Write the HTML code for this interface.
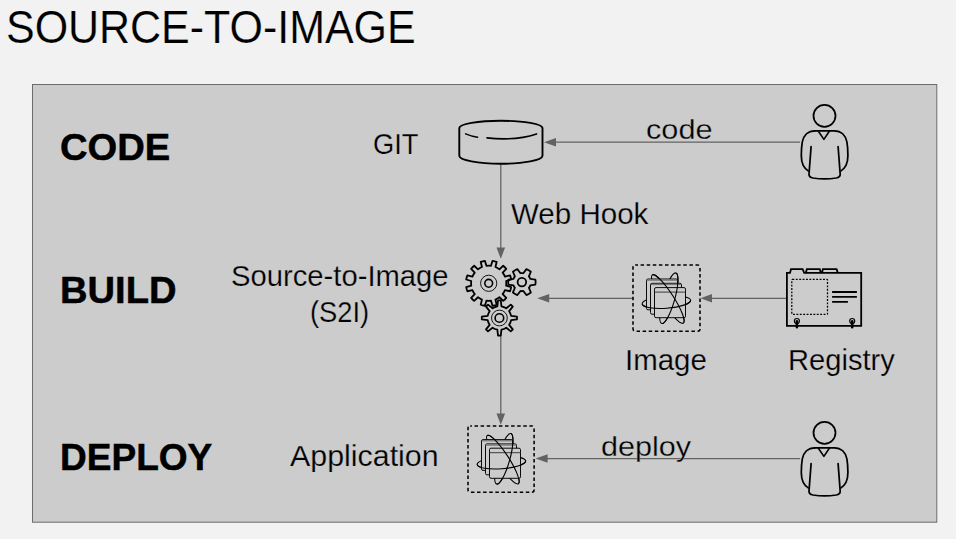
<!DOCTYPE html>
<html><head><meta charset="utf-8">
<style>
html,body{margin:0;padding:0;}
body{width:956px;height:539px;background:#f2f2f2;overflow:hidden;position:relative;font-family:"Liberation Sans",sans-serif;color:#000;}
.box{position:absolute;left:32px;top:84px;width:904px;height:437px;background:#cccccc;border:1px solid #777;}
.t{position:absolute;white-space:nowrap;line-height:1;transform-origin:0 0;}
svg{position:absolute;left:0;top:0;}
</style></head><body>
<svg width="956" height="539" viewBox="0 0 956 539"><rect x="32.5" y="84.5" width="904.3" height="437.7" fill="#cccccc" stroke="#6c6c6c" stroke-width="1"/>
<!-- connectors -->
<g stroke="#626262" stroke-width="1.25" fill="none">
<path d="M555 142.2 H800"/>
<path d="M500.8 164 V249"/>
<path d="M548 298.3 H633"/>
<path d="M711 298.3 H786.5"/>
<path d="M500.8 336 V414"/>
<path d="M547 458.5 H800"/>
</g>
<g fill="#626262" stroke="none">
<path d="M544 142.2 L556 137.9 L556 146.5 Z"/>
<path d="M500.8 258.8 L496.5 247.6 L505.1 247.6 Z"/>
<path d="M537.2 298.3 L549.2 294.1 L549.2 302.5 Z"/>
<path d="M700.6 298.3 L712 294.1 L712 302.5 Z"/>
<path d="M500.8 424.8 L496.5 413.4 L505.1 413.4 Z"/>
<path d="M535.6 458.5 L547.6 454.3 L547.6 462.7 Z"/>
</g>
</svg>
<div class="t" id="title" style="left:6.03px;top:5.06px;font-size:45.50px;-webkit-text-stroke:0.2px #f2f2f2;transform:scaleX(0.9439);">SOURCE-TO-IMAGE</div>
<div class="t" id="code" style="left:60.11px;top:129.08px;font-size:37.80px;font-weight:bold;-webkit-text-stroke:0.5px #000;transform:scaleX(1.0094);">CODE</div>
<div class="t" id="build" style="left:60.03px;top:272.06px;font-size:37.80px;font-weight:bold;-webkit-text-stroke:0.5px #000;transform:scaleX(1.0092);">BUILD</div>
<div class="t" id="deploy" style="left:60.05px;top:439.11px;font-size:37.80px;font-weight:bold;-webkit-text-stroke:0.5px #000;transform:scaleX(0.9798);">DEPLOY</div>
<div class="t" id="git" style="left:373.06px;top:129.09px;font-size:29.30px;-webkit-text-stroke:0.25px #cccccc;transform:scaleX(0.9304);">GIT</div>
<div class="t" id="webhook" style="left:511.11px;top:199.10px;font-size:29.30px;-webkit-text-stroke:0.25px #cccccc;transform:scaleX(1.0084);">Web Hook</div>
<div class="t" id="s2i1" style="left:231.03px;top:261.02px;font-size:29.30px;-webkit-text-stroke:0.25px #cccccc;transform:scaleX(0.9972);">Source-to-Image</div>
<div class="t" id="s2i2" style="left:310.08px;top:297.01px;font-size:29.30px;-webkit-text-stroke:0.25px #cccccc;transform:scaleX(0.9322);">(S2I)</div>
<div class="t" id="app" style="left:290.09px;top:441.08px;font-size:29.60px;-webkit-text-stroke:0.25px #cccccc;transform:scaleX(1.0267);">Application</div>
<div class="t" id="image" style="left:625.10px;top:345.11px;font-size:29.50px;-webkit-text-stroke:0.25px #cccccc;transform:scaleX(0.9977);">Image</div>
<div class="t" id="registry" style="left:788.08px;top:346.11px;font-size:29.10px;-webkit-text-stroke:0.25px #cccccc;transform:scaleX(1.0010);">Registry</div>
<div class="t" id="codel" style="left:646.02px;top:116.09px;font-size:27.30px;-webkit-text-stroke:0.3px #cccccc;transform:scaleX(1.1245);">code</div>
<div class="t" id="deployl" style="left:601.10px;top:433.11px;font-size:27.30px;-webkit-text-stroke:0.3px #cccccc;transform:scaleX(1.1201);">deploy</div>
<svg width="956" height="539" viewBox="0 0 956 539">
<!-- cylinder -->
<g fill="none" stroke="#000" stroke-linecap="round">
<path d="M459.3 128.1 A41.6 7.3 0 0 1 542.5 128.1 V155.8 A41.6 7.9 0 0 1 459.3 155.8 Z" stroke-width="1.9" fill="#cccccc"/>
<path d="M465.6 133.9 Q471 136.2 477.6 137.2" stroke-width="1.5"/>
<path d="M487 137.9 C503 139.7 522 138.7 536.5 133.9" stroke-width="1.6"/>
</g>
<!-- gears -->
<g fill="none" stroke="#000" stroke-width="1.8" stroke-linejoin="round">
<path d="M506.15 285.60 L511.18 287.10 A22.80 22.80 0 0 1 510.07 291.25 L504.96 290.04 A17.60 17.60 0 0 1 502.66 294.01 L506.27 297.83 A22.80 22.80 0 0 1 503.23 300.87 L499.41 297.26 A17.60 17.60 0 0 1 495.44 299.56 L496.65 304.67 A22.80 22.80 0 0 1 492.50 305.78 L491.00 300.75 A17.60 17.60 0 0 1 486.40 300.75 L484.90 305.78 A22.80 22.80 0 0 1 480.75 304.67 L481.96 299.56 A17.60 17.60 0 0 1 477.99 297.26 L474.17 300.87 A22.80 22.80 0 0 1 471.13 297.83 L474.74 294.01 A17.60 17.60 0 0 1 472.44 290.04 L467.33 291.25 A22.80 22.80 0 0 1 466.22 287.10 L471.25 285.60 A17.60 17.60 0 0 1 471.25 281.00 L466.22 279.50 A22.80 22.80 0 0 1 467.33 275.35 L472.44 276.56 A17.60 17.60 0 0 1 474.74 272.59 L471.13 268.77 A22.80 22.80 0 0 1 474.17 265.73 L477.99 269.34 A17.60 17.60 0 0 1 481.96 267.04 L480.75 261.93 A22.80 22.80 0 0 1 484.90 260.82 L486.40 265.85 A17.60 17.60 0 0 1 491.00 265.85 L492.50 260.82 A22.80 22.80 0 0 1 496.65 261.93 L495.44 267.04 A17.60 17.60 0 0 1 499.41 269.34 L503.23 265.73 A22.80 22.80 0 0 1 506.27 268.77 L502.66 272.59 A17.60 17.60 0 0 1 504.96 276.56 L510.07 275.35 A22.80 22.80 0 0 1 511.18 279.50 L506.15 281.00 A17.60 17.60 0 0 1 506.15 285.60Z"/>
<circle cx="488.7" cy="283.3" r="3.9" stroke-width="1.6"/>
<circle cx="488.7" cy="283.3" r="8.1" stroke-width="0.9"/>
<path d="M530.30 278.87 L535.36 279.53 A13.70 13.70 0 0 1 535.36 284.67 L530.30 285.33 A9.00 9.00 0 0 1 528.89 287.76 L530.85 292.47 A13.70 13.70 0 0 1 526.41 295.04 L523.31 290.99 A9.00 9.00 0 0 1 520.49 290.99 L517.39 295.04 A13.70 13.70 0 0 1 512.95 292.47 L514.91 287.76 A9.00 9.00 0 0 1 513.50 285.33 L508.44 284.67 A13.70 13.70 0 0 1 508.44 279.53 L513.50 278.87 A9.00 9.00 0 0 1 514.91 276.44 L512.95 271.73 A13.70 13.70 0 0 1 517.39 269.16 L520.49 273.21 A9.00 9.00 0 0 1 523.31 273.21 L526.41 269.16 A13.70 13.70 0 0 1 530.85 271.73 L528.89 276.44 A9.00 9.00 0 0 1 530.30 278.87Z"/>
<circle cx="521.9" cy="282.1" r="4.3" stroke-width="1.8"/>
<path d="M511.12 315.95 L516.95 316.62 A17.60 17.60 0 0 1 516.95 319.38 L511.12 320.05 A11.90 11.90 0 0 1 509.14 324.84 L512.78 329.43 A17.60 17.60 0 0 1 510.83 331.38 L506.24 327.74 A11.90 11.90 0 0 1 501.45 329.72 L500.78 335.55 A17.60 17.60 0 0 1 498.02 335.55 L497.35 329.72 A11.90 11.90 0 0 1 492.56 327.74 L487.97 331.38 A17.60 17.60 0 0 1 486.02 329.43 L489.66 324.84 A11.90 11.90 0 0 1 487.68 320.05 L481.85 319.38 A17.60 17.60 0 0 1 481.85 316.62 L487.68 315.95 A11.90 11.90 0 0 1 489.66 311.16 L486.02 306.57 A17.60 17.60 0 0 1 487.97 304.62 L492.56 308.26 A11.90 11.90 0 0 1 497.35 306.28 L498.02 300.45 A17.60 17.60 0 0 1 500.78 300.45 L501.45 306.28 A11.90 11.90 0 0 1 506.24 308.26 L510.83 304.62 A17.60 17.60 0 0 1 512.78 306.57 L509.14 311.16 A11.90 11.90 0 0 1 511.12 315.95Z"/>
<circle cx="499.4" cy="318" r="4.3" stroke-width="1.6"/>
<circle cx="499.4" cy="318" r="7.9" stroke-width="0.9"/>
</g>
<rect x="633" y="265" width="67" height="66.2" rx="2.2" ry="2.2" stroke-width="1.55" stroke-dasharray="3.5 2.6" stroke-dashoffset="0.7" fill="none" stroke="#000"/>
<g transform="translate(0,0)" fill="none" stroke="#000">
<g stroke-width="1.1"><ellipse cx="667.85" cy="299.0" rx="28.7" ry="5.9" transform="rotate(57.2 667.85 299.0)"/><ellipse cx="668.8" cy="298.2" rx="26.2" ry="6.0" transform="rotate(-74.3 668.8 298.2)"/><ellipse cx="666.4" cy="302.1" rx="24.3" ry="6.1" transform="rotate(-4.25 666.4 302.1)"/></g>
<g stroke-width="0.95" stroke="#000">
<rect x="646.5" y="279" width="31" height="30.8" rx="1.5" fill="#cccccc"/>
<rect x="647" y="279.5" width="30.2" height="1.3" fill="#777" stroke="none"/>
<rect x="650.5" y="283.3" width="31" height="30.9" rx="1.5" fill="#cccccc"/>
<rect x="651" y="283.8" width="30.2" height="1.3" fill="#777" stroke="none"/>
<rect x="654.5" y="287.6" width="31" height="30.1" rx="1.5" fill="#cccccc"/>
<path d="M654.5 292.1 H685.5" stroke="#333"/>
</g>
<g stroke-width="1.1"><path transform="rotate(57.2 667.85 299.0)" d="M639.15 299.0 A28.7 5.9 0 0 1 696.5500000000001 299.0"/><path transform="rotate(-74.3 668.8 298.2)" d="M642.5999999999999 298.2 A26.2 6.0 0 0 0 695.0 298.2"/><path transform="rotate(-4.25 666.4 302.1)" d="M642.1 302.1 A24.3 6.1 0 0 0 690.6999999999999 302.1"/></g>
</g>
<rect x="468" y="425.9" width="66.1" height="66.3" rx="2.2" ry="2.2" stroke-width="1.55" stroke-dasharray="3.5 2.6" stroke-dashoffset="1.8" fill="none" stroke="#000"/>
<g transform="translate(-165,160.6)" fill="none" stroke="#000">
<g stroke-width="1.1"><ellipse cx="667.85" cy="299.0" rx="28.7" ry="5.9" transform="rotate(57.2 667.85 299.0)"/><ellipse cx="668.8" cy="298.2" rx="26.2" ry="6.0" transform="rotate(-74.3 668.8 298.2)"/><ellipse cx="666.4" cy="302.1" rx="24.3" ry="6.1" transform="rotate(-4.25 666.4 302.1)"/></g>
<g stroke-width="0.95" stroke="#000">
<rect x="646.5" y="279" width="31" height="30.8" rx="1.5" fill="#cccccc"/>
<rect x="647" y="279.5" width="30.2" height="1.3" fill="#777" stroke="none"/>
<rect x="650.5" y="283.3" width="31" height="30.9" rx="1.5" fill="#cccccc"/>
<rect x="651" y="283.8" width="30.2" height="1.3" fill="#777" stroke="none"/>
<rect x="654.5" y="287.6" width="31" height="30.1" rx="1.5" fill="#cccccc"/>
<path d="M654.5 292.1 H685.5" stroke="#333"/>
</g>
<g stroke-width="1.1"><path transform="rotate(57.2 667.85 299.0)" d="M639.15 299.0 A28.7 5.9 0 0 1 696.5500000000001 299.0"/><path transform="rotate(-74.3 668.8 298.2)" d="M642.5999999999999 298.2 A26.2 6.0 0 0 0 695.0 298.2"/><path transform="rotate(-4.25 666.4 302.1)" d="M642.1 302.1 A24.3 6.1 0 0 0 690.6999999999999 302.1"/></g>
</g>
<!-- registry -->
<g fill="none" stroke="#000" stroke-width="1.7" stroke-linejoin="miter">
<path d="M786.9 325.9 L786.9 272.9 L790 272.9 L791 269.2 L802.6 269.2 L804.2 272.9 L861.2 272.9 L861.2 325.9 Z" stroke-width="1.8"/>
<path d="M805.8 272.9 L806.8 269.2 L819.8 269.2 L820.8 272.9 M821.9 272.9 L822.9 269.2 L836.6 269.2 L837.8 272.9" stroke-width="1.8"/>
<rect x="791.8" y="279.4" width="35.7" height="35" rx="0.6" stroke-width="1.25" stroke-dasharray="1.9 1.5"/>
<path d="M832.1 292 H856.9 M832.1 296.9 H856.9 M832.1 301.9 H847.9" stroke-width="1.8"/>
<circle cx="796.9" cy="321" r="2.5" stroke-width="1.2"/>
<circle cx="852.2" cy="321" r="2.5" stroke-width="1.2"/>
<path d="M796.9 321.4 V327.2 M852.2 321.4 V327.2" stroke-width="2.6" stroke-linecap="round"/>
</g>
<g transform="translate(0,0)" fill="none" stroke="#000" stroke-width="1.75" stroke-linecap="round" stroke-linejoin="round">
<circle cx="824.5" cy="115.8" r="11"/>
<path d="M814.8 130.8 L834.4 130.8 C841.2 130.8 845.6 135.5 846.9 141.9 C847.7 146.5 847.9 151 847.9 155.5 C847.9 160 847.2 163 846 165.3 C844.8 167.6 843.2 169.4 841 170.9"/>
<path d="M814.8 130.8 C808 130.8 803.6 135.5 802.3 141.9 C801.5 146.5 801.3 151 801.3 155.5 C801.3 160 802 163 803.2 165.3 C804.4 167.6 806 169.4 808.2 170.9"/>
<path d="M811.1 146.6 L809.0 174.2 C808.9 176.8 810.5 177.5 813 178 C820 179.2 829.2 179.2 836.2 178 C838.7 177.5 840.3 176.8 840.2 174.2 L838.1 146.6"/>
<path d="M818.2 131 L823.9 139.4 L829.5 131" stroke-width="1.6"/>
</g>
<g transform="translate(0,317)" fill="none" stroke="#000" stroke-width="1.75" stroke-linecap="round" stroke-linejoin="round">
<circle cx="824.5" cy="115.8" r="11"/>
<path d="M814.8 130.8 L834.4 130.8 C841.2 130.8 845.6 135.5 846.9 141.9 C847.7 146.5 847.9 151 847.9 155.5 C847.9 160 847.2 163 846 165.3 C844.8 167.6 843.2 169.4 841 170.9"/>
<path d="M814.8 130.8 C808 130.8 803.6 135.5 802.3 141.9 C801.5 146.5 801.3 151 801.3 155.5 C801.3 160 802 163 803.2 165.3 C804.4 167.6 806 169.4 808.2 170.9"/>
<path d="M811.1 146.6 L809.0 174.2 C808.9 176.8 810.5 177.5 813 178 C820 179.2 829.2 179.2 836.2 178 C838.7 177.5 840.3 176.8 840.2 174.2 L838.1 146.6"/>
<path d="M818.2 131 L823.9 139.4 L829.5 131" stroke-width="1.6"/>
</g>
</svg>
</body></html>
